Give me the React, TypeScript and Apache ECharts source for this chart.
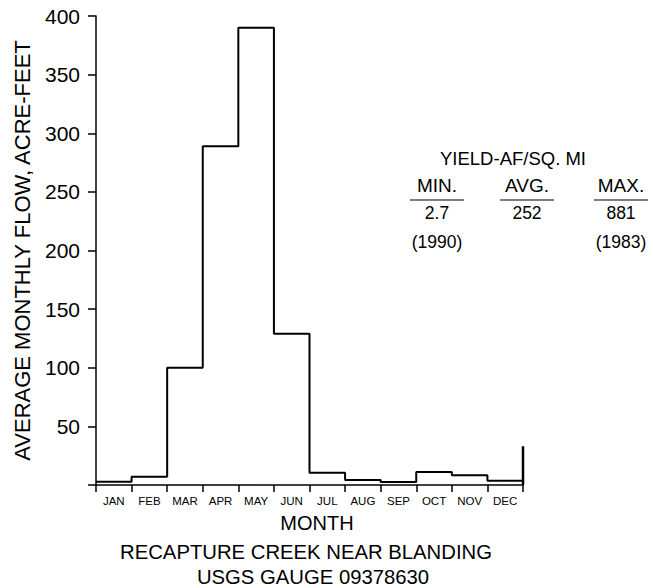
import React, { useEffect, useRef } from "react";
import * as echarts from "echarts";

const months = ["JAN", "FEB", "MAR", "APR", "MAY", "JUN", "JUL", "AUG", "SEP", "OCT", "NOV", "DEC"];
const flow = [2.8, 7, 100, 289, 390, 129, 10.5, 4.3, 2.6, 11, 8.3, 3.7];
const yTicks = [50, 100, 150, 200, 250, 300, 350, 400];
const rightEdgeTop = 33;
const yieldHeaders = ["MIN.", "AVG.", "MAX."];
const yieldValues = ["2.7", "252", "881"];
const yieldYears = ["(1990)", "", "(1983)"];

const FONT = "'Liberation Sans', Arial, Helvetica, sans-serif";

export default function App() {
  const ref = useRef<HTMLDivElement>(null);
  useEffect(() => {
    if (!ref.current) return;
    const chart = echarts.init(ref.current, undefined, { renderer: "svg" });
    const stepData: number[][] = flow.map((v, i) => [i, v]);
    stepData.push([12, flow[flow.length - 1]]);
    const colX = [437, 527, 621];
    const tf = `17.5px ${FONT}`;
    const gfx: any[] = [
      { type: "text", x: 513, y: 158, style: { text: "YIELD-AF/SQ. MI", font: `18.5px ${FONT}`, fill: "#000", align: "center", verticalAlign: "middle" } },
    ];
    yieldHeaders.forEach((h, i) => {
      gfx.push({ type: "text", x: colX[i], y: 185, style: { text: h, font: `19px ${FONT}`, fill: "#000", align: "center", verticalAlign: "middle" } });
      gfx.push({ type: "line", shape: { x1: colX[i] - 27, y1: 200, x2: colX[i] + 27, y2: 200 }, style: { stroke: "#000", lineWidth: 1.2 } });
      gfx.push({ type: "text", x: colX[i], y: 213, style: { text: yieldValues[i], font: tf, fill: "#000", align: "center", verticalAlign: "middle" } });
      if (yieldYears[i]) gfx.push({ type: "text", x: colX[i], y: 242, style: { text: yieldYears[i], font: tf, fill: "#000", align: "center", verticalAlign: "middle" } });
    });
    gfx.push({ type: "text", x: 317, y: 523, style: { text: "MONTH", font: `20px ${FONT}`, fill: "#000", align: "center", verticalAlign: "middle" } });
    gfx.push({ type: "text", x: 306, y: 552, style: { text: "RECAPTURE CREEK NEAR BLANDING", font: `20.3px ${FONT}`, fill: "#000", align: "center", verticalAlign: "middle" } });
    gfx.push({ type: "text", x: 313, y: 577, style: { text: "USGS GAUGE 09378630", font: `20.3px ${FONT}`, fill: "#000", align: "center", verticalAlign: "middle" } });

    chart.setOption({
      animation: false,
      backgroundColor: "#fff",
      grid: { left: 96, right: 130, top: 16, bottom: 103, containLabel: false },
      xAxis: [
        {
          type: "category",
          data: months,
          boundaryGap: true,
          axisLine: { show: true, lineStyle: { color: "#000", width: 1.5 } },
          axisTick: { show: true, length: 7, lineStyle: { color: "#000", width: 1.5 } },
          axisLabel: { color: "#000", fontSize: 11.5, fontFamily: FONT, margin: 10, interval: 0 },
          splitLine: { show: false },
        },
        {
          type: "value",
          min: 0,
          max: 12,
          interval: 1,
          show: false,
        },
      ],
      yAxis: {
        type: "value",
        min: 0,
        max: 400,
        interval: 50,
        name: "AVERAGE MONTHLY FLOW, ACRE-FEET",
        nameLocation: "middle",
        nameGap: 63,
        nameTextStyle: { color: "#000", fontSize: 22, fontFamily: FONT },
        axisLine: { show: true, lineStyle: { color: "#000", width: 1.5 } },
        axisTick: { show: true, length: 8, lineStyle: { color: "#000", width: 1.5 } },
        axisLabel: {
          color: "#000",
          fontSize: 21,
          fontFamily: FONT,
          margin: 16,
          formatter: (v: number) => (yTicks.includes(v) ? String(v) : ""),
        },
        splitLine: { show: false },
      },
      series: [
        {
          type: "line",
          xAxisIndex: 1,
          step: "end",
          data: stepData,
          symbol: "none",
          lineStyle: { color: "#000", width: 2 },
        },
        {
          type: "line",
          xAxisIndex: 1,
          data: [[12, 0], [12, rightEdgeTop]],
          symbol: "none",
          lineStyle: { color: "#000", width: 2.5 },
        },
      ],
      graphic: gfx,
    });
    return () => chart.dispose();
  }, []);
  return <div ref={ref} style={{ width: 653, height: 588, position: "absolute", left: 0, top: 0 }} />;
}
